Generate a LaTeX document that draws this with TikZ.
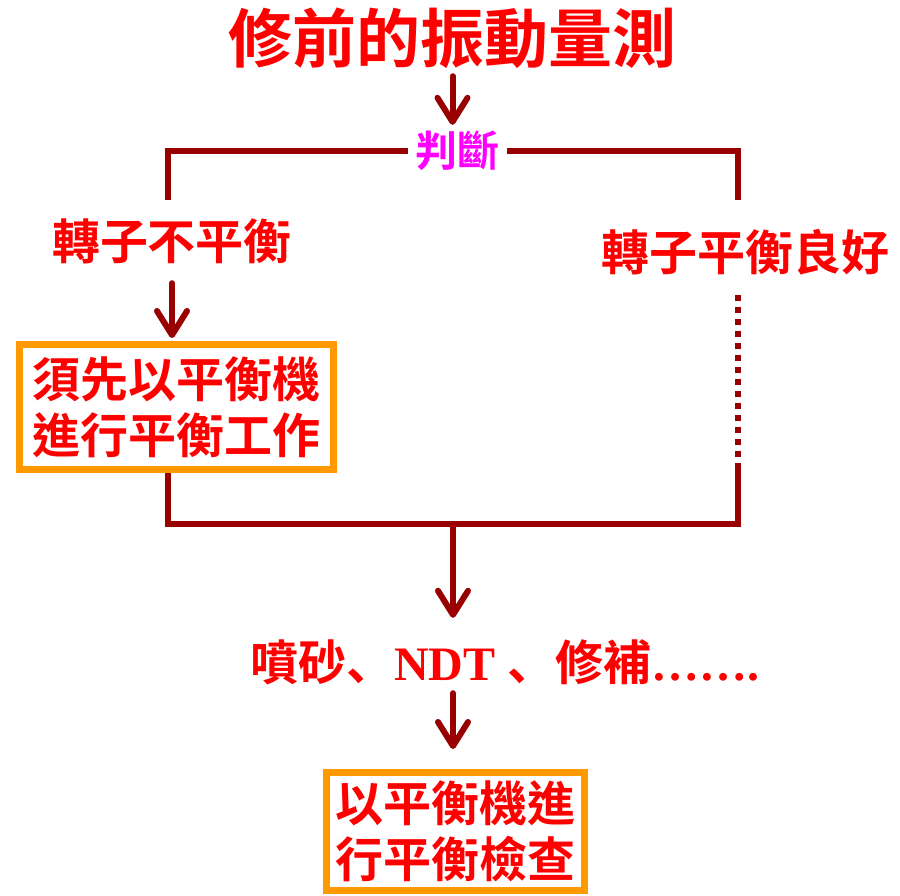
\documentclass[tikz,border=0pt]{standalone}
\usepackage{fontspec}
\setmainfont{Liberation Serif}
\newfontfamily\cjk{Noto Sans CJK TC}[BoldFont={* Bold}]
\newfontfamily\cjkjp{Noto Sans CJK JP}[BoldFont={* Bold}]
\usetikzlibrary{arrows.meta}
\definecolor{lnred}{HTML}{990000}
\definecolor{txred}{HTML}{FF0000}
\definecolor{boxor}{HTML}{FF9900}
\definecolor{mag}{HTML}{FF00FF}
\tikzset{
  ln/.style={draw=lnred, line width=6pt},
  arr/.style={ln, line cap=round, -{Straight Barb[length=24pt,width=30pt,round]}},
  lbl/.style={text=txred, inner sep=0pt, font=\cjk\bfseries\fontsize{48}{56}\selectfont},
  obox/.style={draw=boxor, line width=7pt, fill=white, text=txred, inner sep=0pt, align=center,
    font=\cjk\bfseries\fontsize{48}{56}\selectfont},
}
\begin{document}
\begin{tikzpicture}[x=1pt,y=-1pt]
\useasboundingbox[fill=white] (0,0) rectangle (900,895);
% nodes
\node[lbl, font=\cjk\bfseries\fontsize{64}{70}\selectfont, minimum height=76pt] (title) at (452.5,38) {修前的振動量測};
\node[inner sep=0pt, text=mag, font=\cjk\bfseries\fontsize{42}{48}\selectfont, minimum width=99pt, minimum height=50pt] (judge) at (457.5,151) {判斷};
\node[lbl, minimum height=84pt] (lab1) at (172,241) {轉子不平衡};
\node[lbl, minimum height=86pt] (lab2) at (745,252) {轉子平衡良好};
\node[obox, minimum width=314pt, minimum height=125pt] (box1) at (176.5,407) {須先以平衡機\\進行平衡工作};
\node[lbl, anchor=west, minimum height=62pt, font=\bfseries\fontsize{48}{54}\selectfont] (bt) at (250,662)
  {{\cjk 噴砂}{\cjkjp 、}NDT {\cjkjp 、}{\cjk 修補}…….};
\node[obox, minimum width=258pt, minimum height=118pt] (box2) at (455.5,831.5) {以平衡機進\\行平衡檢查};
% coordinates
\coordinate (tl) at (168,200);
\coordinate (tr) at (738,200);
\coordinate (bl) at (168,524);
\coordinate (bm) at (453,524);
\coordinate (brc) at (738,524);
\coordinate (rd) at (738,469);
% connectors
\draw[arr, shorten >=1pt] (title.south) -- (title.south |- judge.north);
\draw[ln] (judge.west) -| (tl);
\draw[ln] (judge.east) -| (tr);
\draw[arr, shorten >=3pt] (lab1.south) -- (lab1.south |- box1.north);
\draw[ln] (box1.south -| tl) -- (bl) -- (brc) -- (rd);
\draw[ln, dash pattern=on 6pt off 6pt] (rd) -- (lab2.south -| rd);
\draw[arr, shorten >=13pt] (bm) -- (bm |- bt.north);
\draw[arr, shorten >=20pt] (bm |- bt.south) -- (bm |- box2.north);
\end{tikzpicture}
\end{document}
